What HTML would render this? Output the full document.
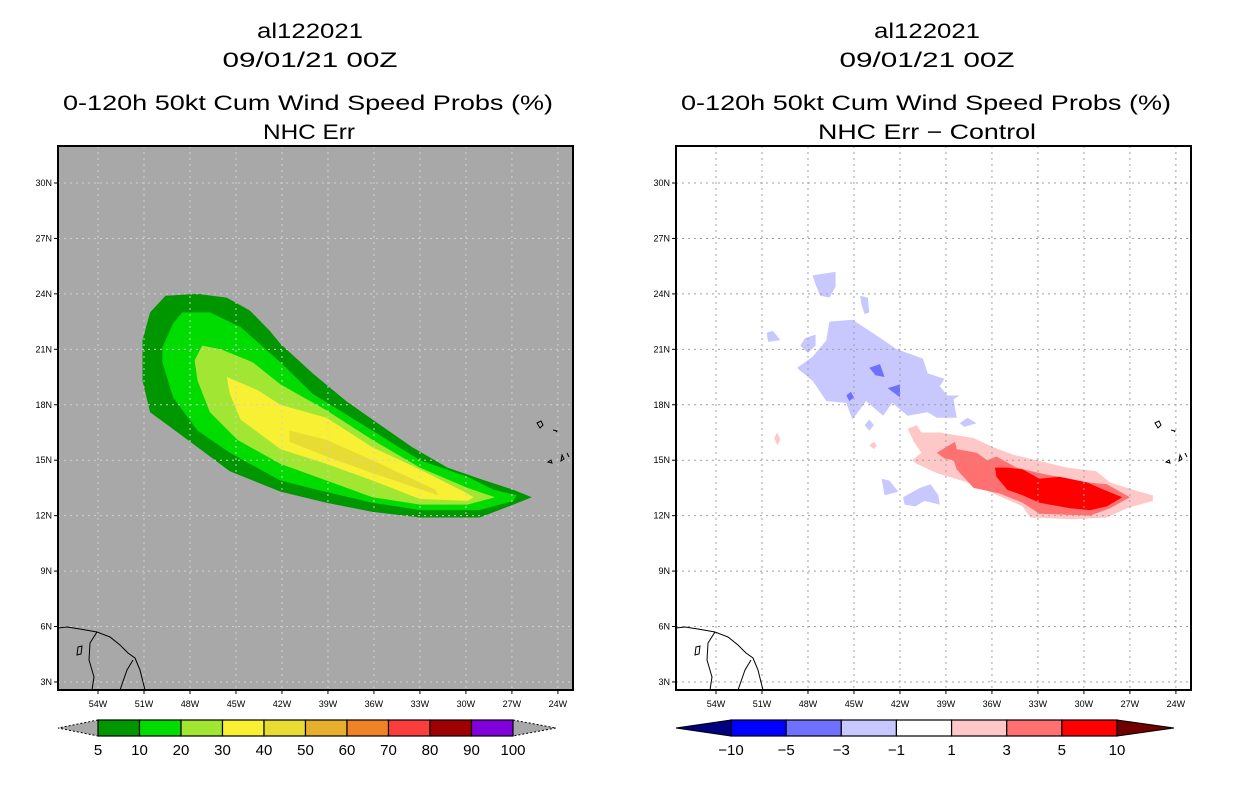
<!DOCTYPE html>
<html><head><meta charset="utf-8">
<style>
html,body{margin:0;padding:0;background:#fff;}
body{width:1236px;height:800px;overflow:hidden;font-family:"Liberation Sans",sans-serif;}
svg text{font-family:"Liberation Sans",sans-serif;}
</style></head>
<body>
<svg id="chart" width="1236" height="800" viewBox="0 0 1236 800" xmlns="http://www.w3.org/2000/svg">
<g id="titles" font-size="21" text-anchor="middle" fill="#000">
  <text x="310" y="38" textLength="106" lengthAdjust="spacingAndGlyphs">al122021</text>
  <text x="310" y="67" textLength="175" lengthAdjust="spacingAndGlyphs">09/01/21 00Z</text>
  <text x="308" y="110" textLength="490" lengthAdjust="spacingAndGlyphs">0-120h 50kt Cum Wind Speed Probs (%)</text>
  <text x="309" y="139" textLength="92" lengthAdjust="spacingAndGlyphs">NHC Err</text>
  <text x="927" y="38" textLength="106" lengthAdjust="spacingAndGlyphs">al122021</text>
  <text x="927" y="67" textLength="175" lengthAdjust="spacingAndGlyphs">09/01/21 00Z</text>
  <text x="926" y="110" textLength="490" lengthAdjust="spacingAndGlyphs">0-120h 50kt Cum Wind Speed Probs (%)</text>
  <text x="927" y="139" textLength="218" lengthAdjust="spacingAndGlyphs">NHC Err − Control</text>
</g>
<g id="left"></g>
<g id="right"></g>
<g id="cbars"></g>
</svg>
<script>
// ---- data (lon degrees east, lat degrees north) ----
const latTicks = [3,6,9,12,15,18,21,24,27,30];
const lonTicks = [-54,-51,-48,-45,-42,-39,-36,-33,-30,-27,-24];
const probLevels = ["5","10","20","30","40","50","60","70","80","90","100"];
const probColors = ["#009600","#00dc00","#a0e632","#f8f032","#e6dc32","#e6af2d","#f08228","#fa3c3c","#a00000","#8200dc"];
const diffLevels = ["-10","-5","-3","-1","1","3","5","10"];
const diffColors = ["#0000ff","#7070ff","#c8c8ff","#ffffff","#ffc8c8","#ff7070","#ff0000"];

const prob05 = [[-49.6,23.9],[-47.5,24.0],[-45.6,23.8],[-44.1,23.1],[-42.8,22.0],[-42.1,21.3],[-40.0,19.7],[-37.8,18.2],[-36.1,17.2],[-33.5,15.7],[-31.2,14.6],[-29.1,14.0],[-26.9,13.4],[-25.7,13.0],[-26.9,12.6],[-29.1,11.9],[-33.0,11.9],[-36.1,12.2],[-39.1,12.7],[-42.1,13.3],[-45.4,14.4],[-47.5,15.7],[-49.3,16.8],[-50.6,17.6],[-51.1,19.3],[-51.1,21.5],[-50.6,23.0]];
const prob10 = [[-48.5,23.0],[-46.7,23.0],[-44.7,22.2],[-42.1,20.3],[-40.0,18.6],[-36.1,16.6],[-33.0,15.0],[-29.9,14.1],[-28.2,13.4],[-26.7,13.1],[-26.9,12.8],[-29.1,12.3],[-33.0,12.3],[-36.1,12.7],[-39.7,13.4],[-42.1,13.9],[-45.4,15.4],[-47.5,16.6],[-49.1,18.4],[-49.8,20.3],[-49.8,21.1],[-49.1,22.4]];
const prob20 = [[-47.2,21.2],[-46.0,21.0],[-43.9,20.3],[-42.1,19.1],[-39.1,17.7],[-36.1,16.1],[-33.0,14.6],[-29.9,13.5],[-28.1,13.0],[-29.9,12.6],[-33.0,12.6],[-36.1,13.0],[-39.1,13.9],[-42.1,14.8],[-44.9,16.1],[-46.7,17.6],[-47.5,19.3],[-47.7,20.4]];
const prob30 = [[-45.6,19.5],[-43.6,18.8],[-42.1,18.0],[-39.1,17.3],[-36.1,15.7],[-33.0,14.5],[-29.9,13.2],[-29.5,13.0],[-29.9,12.8],[-33.0,12.9],[-36.1,13.9],[-39.1,14.8],[-42.1,15.6],[-44.7,17.2],[-45.4,18.6]];
const prob40 = [[-41.5,16.6],[-39.1,16.1],[-36.1,15.0],[-32.0,13.4],[-31.8,13.1],[-36.1,14.3],[-39.1,15.2],[-41.5,16.0]];

const negMain = [[-48.7,20.0],[-47.7,20.6],[-46.8,21.5],[-46.6,22.5],[-45.1,22.6],[-43.8,21.9],[-42.2,21.0],[-40.5,20.5],[-40.2,19.7],[-39.1,19.4],[-39.4,19.0],[-38.9,18.5],[-38.1,18.5],[-38.5,18.3],[-38.3,17.3],[-39.6,17.3],[-40.2,17.6],[-41.5,17.4],[-42.5,18.1],[-43.1,17.4],[-44.2,18.2],[-45.1,17.2],[-45.5,18.1],[-46.8,18.2],[-47.7,19.3],[-48.6,19.9]];
const negBits = [
 [[-47.7,25.0],[-46.2,25.2],[-46.2,24.4],[-46.6,23.8],[-47.2,23.9],[-47.5,24.5]],
 [[-44.6,23.9],[-44.1,23.8],[-44.0,23.0],[-44.3,22.9],[-44.5,23.4]],
 [[-50.7,21.9],[-50.3,22.0],[-49.8,21.5],[-50.6,21.4]],
 [[-48.2,21.6],[-47.5,21.8],[-47.5,21.2],[-48.0,20.8],[-48.5,21.2]],
 [[-43.2,14.0],[-42.7,13.9],[-42.1,13.3],[-43.0,13.1]],
 [[-41.8,13.0],[-40.7,13.5],[-40.0,13.7],[-39.5,13.1],[-39.4,12.6],[-40.4,12.8],[-41.0,12.5],[-41.7,12.6]],
 [[-38.1,17.0],[-37.6,17.3],[-37.0,17.0],[-37.8,16.8]],
 [[-44.3,16.9],[-44.0,17.2],[-43.7,16.9],[-44.0,16.6]]
];
const neg5Bits = [
 [[-44.0,20.0],[-43.3,20.2],[-43.0,19.5],[-43.6,19.6]],
 [[-42.8,18.9],[-42.0,19.1],[-42.0,18.4]],
 [[-45.5,18.5],[-45.2,18.7],[-45.0,18.4],[-45.3,18.2]]
];
const pos1 = [[-41.5,16.7],[-40.9,16.9],[-40.6,16.5],[-39.4,16.5],[-37.2,16.2],[-35.9,15.7],[-34.6,15.3],[-33.1,15.0],[-31.1,14.6],[-29.2,14.4],[-28.3,13.8],[-26.8,13.4],[-25.5,13.1],[-25.5,12.8],[-27.2,12.4],[-28.5,11.9],[-30.7,11.8],[-33.5,11.9],[-34.0,12.5],[-35.9,13.2],[-37.6,13.8],[-39.6,14.3],[-40.9,14.8],[-41.2,15.0],[-40.6,15.4],[-41.1,16.0]];
const pos1Bits = [
 [[-50.2,16.2],[-50.0,16.5],[-49.8,16.1],[-50.0,15.8]],
 [[-44.0,15.8],[-43.7,16.0],[-43.5,15.8],[-43.7,15.6]]
];
const pos3 = [[-39.6,15.4],[-38.4,16.0],[-38.3,15.6],[-37.0,15.4],[-36.3,15.0],[-35.7,15.2],[-34.4,14.6],[-32.9,14.3],[-29.8,13.8],[-28.5,13.7],[-27.0,13.0],[-28.3,12.4],[-29.6,12.0],[-32.9,12.1],[-34.0,12.7],[-35.5,13.2],[-37.2,13.5],[-38.3,14.5],[-38.5,15.0],[-39.1,15.1]];
const pos5 = [[-35.8,14.6],[-35.0,14.6],[-34.0,14.5],[-32.9,14.0],[-31.6,14.1],[-29.8,13.8],[-29.0,13.5],[-27.5,13.0],[-28.5,12.5],[-29.6,12.3],[-30.9,12.4],[-32.9,12.7],[-34.0,13.1],[-35.0,13.4],[-35.7,14.1]];

// ---- axis functions ----
const LON0=-54, PX_LON=15.33, LAT0=30, PX_LAT=18.48;
function xOf(lon, off){ return 98 + off + (lon-LON0)*PX_LON; }
function yOf(lat){ return 183 + (LAT0-lat)*PX_LAT; }
const NS="http://www.w3.org/2000/svg";
function mk(tag, attrs, parent){ const e=document.createElementNS(NS,tag); for(const k in attrs) e.setAttribute(k,attrs[k]); parent.appendChild(e); return e; }
function poly(pts, off, fill, parent, name){
  const e = mk('polygon',{points:pts.map(p=>xOf(p[0],off).toFixed(1)+','+yOf(p[1]).toFixed(1)).join(' '),fill:fill},parent);
  
  
  return e;
}
function coast(off, parent){
  const g = mk('g',{fill:'none',stroke:'#000','stroke-width':1,transform:'translate('+off+',0)'},parent);
  
  
  mk('path',{d:'M58 628 L67 627 L80 629 L97 632 L110 637 L120 645 L128 653 L135 658 L140 670 L145 690 M97 632 L90 643 L89 660 L94 677 L92 690 M133 660 L127 670 L120 690 M78 647 L82 646 L81 654 L77 655 Z M537 423 L541 421 L543 425 L540 428 Z M553 430 L557 431 L556 432 M548 462 L551 460 L552 463 Z M562 455 L564 459 L561 461 Z M567 453 L569 457'},g);
}
function panel(gid, off, bg, gridColor, fills){
  const g=document.getElementById(gid);
  const L=58+off, T=146, W=515, H=544;
  const clipId='clip'+gid;
  const cp=mk('clipPath',{id:clipId},g); mk('rect',{x:L,y:T,width:W,height:H},cp);
  const bgR=mk('rect',{x:L,y:T,width:W,height:H,fill:bg},g);
  
  
  const inner=mk('g',{'clip-path':'url(#'+clipId+')'},g);
  fills(inner);
  const grid=mk('g',{stroke:gridColor,'stroke-width':1,'stroke-dasharray':'2,4'},inner);
  
  
  lonTicks.forEach(v=>{const x=xOf(v,off); mk('line',{x1:x,x2:x,y1:T,y2:T+H},grid);});
  latTicks.forEach(v=>{const y=yOf(v); mk('line',{x1:L,x2:L+W,y1:y,y2:y},grid);});
  coast(off, inner);
  const frame=mk('rect',{x:L,y:T,width:W,height:H,fill:'none',stroke:'#000','stroke-width':2},g);
  
  
  const ax=mk('g',{'font-size':9,fill:'#000'},g);
  latTicks.forEach(v=>{
    const y=yOf(v);
    mk('line',{x1:L-4,x2:L,y1:y,y2:y,stroke:'#000'},ax);
    const t=mk('text',{x:L-6,y:y+3,'text-anchor':'end'},ax); t.textContent=v+'N';
    
    
  });
  lonTicks.forEach(v=>{
    const x=xOf(v,off);
    mk('line',{x1:x,x2:x,y1:T+H,y2:T+H+4,stroke:'#000'},ax);
    const t=mk('text',{x:x,y:T+H+17,'text-anchor':'middle'},ax); t.textContent=(-v)+'W';
    
    
  });
}
panel('left',0,'#a8a8a8','#d0d0d0',g=>{
  [prob05,prob10,prob20,prob30,prob40].forEach((p,i)=>poly(p,0,probColors[i],g,'prob-contour-'+probLevels[i]));
});
panel('right',618,'#ffffff','#a0a0a0',g=>{
  poly(negMain,618,diffColors[2],g,'neg-diff-area');
  negBits.forEach(p=>poly(p,618,diffColors[2],g,'neg-diff-patch'));
  neg5Bits.forEach(p=>poly(p,618,diffColors[1],g,'neg-diff-strong-patch'));
  poly(pos1,618,diffColors[4],g,'pos-diff-area');
  pos1Bits.forEach(p=>poly(p,618,diffColors[4],g,'pos-diff-patch'));
  poly(pos3,618,diffColors[5],g,'pos-diff-3-area');
  poly(pos5,618,diffColors[6],g,'pos-diff-5-area');
});
// ---- colorbars ----
function cbar(x0,x1,tipL,tipR,colors,labels,lc,rc,dash,name){
  const cb=document.getElementById('cbars');
  const g=mk('g',{},cb);
  
  
  const y0=720,y1=736,ym=728;
  const ta={stroke:'#000','stroke-width':1}; if(dash) ta['stroke-dasharray']='2,2';
  mk('polygon',Object.assign({points:`${x0},${y0} ${tipL},${ym} ${x0},${y1}`,fill:lc},ta),g);
  mk('polygon',Object.assign({points:`${x1},${y0} ${tipR},${ym} ${x1},${y1}`,fill:rc},ta),g);
  const w=(x1-x0)/colors.length;
  colors.forEach((c,i)=>{
    const r=mk('rect',{x:x0+i*w,y:y0,width:w,height:y1-y0,fill:c,stroke:'#000','stroke-width':1.2},g);
    
    
  });
  labels.forEach((l,i)=>{
    const t=mk('text',{x:x0+i*w,y:755,'text-anchor':'middle','font-size':15},g);
    t.textContent=l.replace('-','−');
    
    
  });
}
cbar(98,513,58,556,probColors,probLevels,'#a8a8a8','#a8a8a8',true,'prob-colorbar');
cbar(731,1117,676,1174,diffColors,diffLevels,'#000080','#700000',false,'diff-colorbar');
</script>
</body></html>
